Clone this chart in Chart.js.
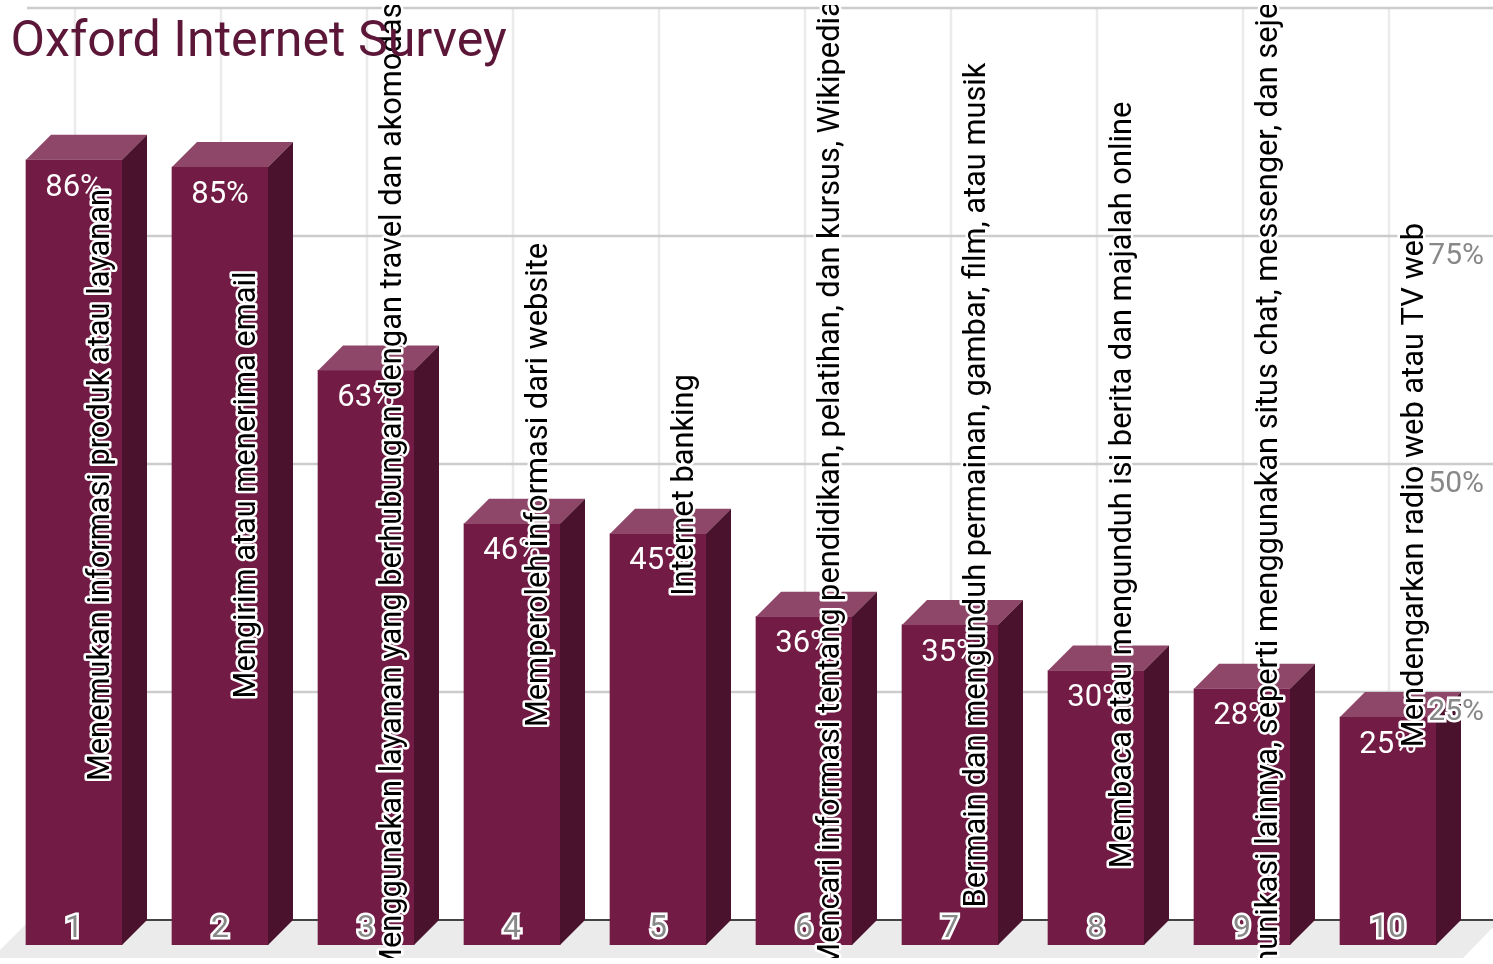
<!DOCTYPE html>
<html>
<head>
<meta charset="utf-8">
<style>html,body{margin:0;padding:0;background:#fff;overflow:hidden}canvas{display:block}</style>
<script src="https://cdn.jsdelivr.net/npm/chart.js@4"></script>
</head>
<body>
<canvas id="myChart" width="1493" height="964"></canvas>
<script>
const chart_title = 'Oxford Internet Survey';
const categories = ['1', '2', '3', '4', '5', '6', '7', '8', '9', '10'];
const percent_values = [86.1, 85.3, 63, 46.2, 45.1, 36, 35.1, 30.1, 28.1, 25];
const activity_names = [
    'Menemukan informasi produk atau layanan',
    'Mengirim atau menerima email',
    'Menggunakan layanan yang berhubungan dengan travel dan akomodasi',
    'Memperoleh informasi dari website',
    'Internet banking',
    'Mencari informasi tentang pendidikan, pelatihan, dan kursus, Wikipedia',
    'Bermain dan mengunduh permainan, gambar, film, atau musik',
    'Membaca atau mengunduh isi berita dan majalah online',
    'Berkomunikasi lainnya, seperti menggunakan situs chat, messenger, dan sejenisnya',
    'Mendengarkan radio web atau TV web'
];
const wall_ticks = [0, 25, 50, 75, 100];

const front_color = '#711b45';
const top_color = '#8e4768';
const side_color = '#4a122d';
const depth = 25;
const font_family = 'Roboto';

// the 3d look: wall and floor sit behind the front plane of the y scale
const wallPlugin = {
    id: 'wall',
    beforeDatasetsDraw(chart) {
        const ctx = chart.ctx;
        const x = chart.scales.x;
        const y = chart.scales.y;
        const back = y.getPixelForValue(0) - depth;
        const top = y.getPixelForValue(100) - depth;
        ctx.save();
        ctx.fillStyle = '#ebebeb';
        ctx.beginPath();
        ctx.moveTo(30, back);
        ctx.lineTo(1500, back);
        ctx.lineTo(1463, 958);
        ctx.lineTo(-8, 958);
        ctx.closePath();
        ctx.fill();
        ctx.strokeStyle = '#ebebeb';
        ctx.lineWidth = 2.5;
        categories.forEach(function (c, i) {
            ctx.beginPath();
            ctx.moveTo(x.getPixelForValue(i) + 1, top);
            ctx.lineTo(x.getPixelForValue(i) + 1, back);
            ctx.stroke();
        });
        wall_ticks.forEach(function (t) {
            const py = y.getPixelForValue(t) - depth;
            ctx.strokeStyle = t == 0 ? '#444444' : '#cccccc';
            ctx.lineWidth = t == 0 ? 2 : 2.5;
            ctx.beginPath();
            ctx.moveTo(27, py);
            ctx.lineTo(1493, py);
            ctx.stroke();
        });
        ctx.restore();
    },
    afterDatasetsDraw(chart) {
        const ctx = chart.ctx;
        ctx.save();
        chart.getDatasetMeta(0).data.forEach(function (bar, i) {
            const left = bar.x - bar.width / 2;
            const right = bar.x + bar.width / 2;
            ctx.fillStyle = top_color;
            ctx.beginPath();
            ctx.moveTo(left, bar.y);
            ctx.lineTo(left + depth, bar.y - depth);
            ctx.lineTo(right + depth, bar.y - depth);
            ctx.lineTo(right, bar.y);
            ctx.closePath();
            ctx.fill();
            ctx.fillStyle = side_color;
            ctx.beginPath();
            ctx.moveTo(right, bar.y);
            ctx.lineTo(right + depth, bar.y - depth);
            ctx.lineTo(right + depth, bar.base - depth);
            ctx.lineTo(right, bar.base);
            ctx.closePath();
            ctx.fill();
            ctx.fillStyle = '#ffffff';
            ctx.font = '31px ' + font_family;
            ctx.textAlign = 'center';
            ctx.textBaseline = 'middle';
            ctx.fillText(Math.round(percent_values[i]) + '%', bar.x, bar.y + 28);
        });
        ctx.restore();
    },
    afterDraw(chart) {
        const ctx = chart.ctx;
        const x = chart.scales.x;
        const mid = chart.scales.y.getPixelForValue(50) - 4;
        ctx.save();
        ctx.beginPath();
        ctx.rect(0, 5, 1493, 953);
        ctx.clip();
        activity_names.forEach(function (name, i) {
            ctx.save();
            ctx.translate(x.getPixelForValue(i) + 27, mid);
            ctx.rotate(-Math.PI / 2);
            ctx.font = '30.8px ' + font_family;
            ctx.textAlign = 'center';
            ctx.textBaseline = 'middle';
            ctx.lineJoin = 'round';
            ctx.strokeStyle = '#ffffff';
            ctx.lineWidth = 5;
            ctx.strokeText(name, 0, 0);
            ctx.fillStyle = '#000000';
            ctx.fillText(name, 0, 0);
            ctx.restore();
        });
        // the title lies over the long labels
        ctx.font = '50.2px ' + font_family;
        ctx.fillStyle = '#5c1638';
        ctx.textAlign = 'left';
        ctx.textBaseline = 'alphabetic';
        ctx.fillText(chart_title, 10.5, 56);
        ctx.restore();
    }
};

new Chart('myChart', {
    type: 'bar',
    data: {
        labels: categories,
        datasets: [{
            data: percent_values,
            backgroundColor: front_color,
            barThickness: 96
        }]
    },
    options: {
        responsive: false,
        animation: false,
        layout: { padding: { left: 1, top: 33, right: 0, bottom: 19 } },
        plugins: {
            legend: { display: false },
            tooltip: { enabled: false }
        },
        scales: {
            x: {
                afterFit: function (scale) { scale.height = 0; },
                grid: { display: false, drawTicks: false },
                border: { display: false },
                ticks: {
                    z: 1,
                    mirror: true,
                    padding: -3,
                    maxRotation: 0,
                    autoSkip: false,
                    color: '#888888',
                    textStrokeColor: '#ffffff',
                    textStrokeWidth: 5,
                    font: { family: font_family, size: 32 }
                }
            },
            y: {
                position: 'right',
                min: 0,
                max: 100,
                afterFit: function (scale) {
                    scale.width = 32;
                    scale.paddingTop = 0;
                    scale.paddingBottom = 0;
                },
                grid: { display: false, drawTicks: false },
                border: { display: false },
                ticks: {
                    z: 1,
                    mirror: true,
                    stepSize: 25,
                    padding: 23,
                    labelOffset: -5,
                    color: '#888888',
                    textStrokeColor: '#ffffff',
                    textStrokeWidth: 5,
                    font: { family: font_family, size: 30 },
                    callback: function (v) { return (v > 0 && v < 100) ? v + '%' : ''; }
                }
            }
        }
    },
    plugins: [wallPlugin]
});
</script>
</body>
</html>
